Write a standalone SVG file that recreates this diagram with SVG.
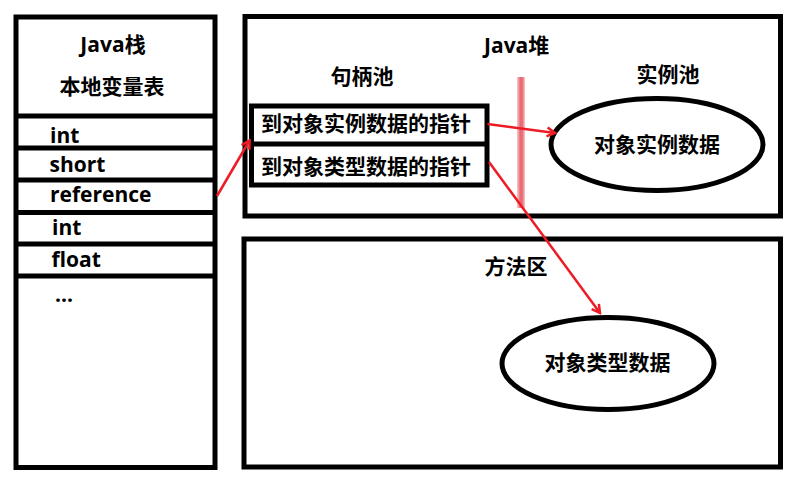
<svg xmlns="http://www.w3.org/2000/svg" width="797" height="487" viewBox="0 0 797 487">
<style>
.box{fill:#fff;stroke:#000;stroke-width:5}
.sep{stroke:#000;stroke-width:5}
.ell{fill:#fff;stroke:#000;stroke-width:5}
text{font-family:"Open Sans","Noto Sans CJK SC",sans-serif;font-weight:bold;font-size:21px;fill:#000}
.c{text-anchor:middle}
.conn{stroke:#ed1c24;stroke-width:2.5;fill:none;marker-end:url(#head)}
</style>
<defs>
<marker id="head" markerUnits="userSpaceOnUse" viewBox="0 0 12 12" refX="10" refY="6" markerWidth="12" markerHeight="12" orient="auto">
<path d="M2,1.5 L10,6 L2,10.5" fill="none" stroke="#ed1c24" stroke-width="2.5"/>
</marker>
<linearGradient id="brush" x1="0" y1="0" x2="1" y2="0">
<stop offset="0" stop-color="#f7c4c6"/>
<stop offset="0.4" stop-color="#e4505a"/>
<stop offset="0.7" stop-color="#e65a63"/>
<stop offset="1" stop-color="#f7c4c6"/>
</linearGradient>
</defs>
<rect width="797" height="487" fill="#fff"/>

<g id="java-stack">
<rect class="box" x="16" y="17" width="199" height="450.5"/>
<text class="c" x="113" y="52">Java栈</text>
<text class="c" x="112" y="93.5">本地变量表</text>
<line class="sep" x1="16" y1="116" x2="215" y2="116"/>
<line class="sep" x1="16" y1="148" x2="215" y2="148"/>
<line class="sep" x1="16" y1="180" x2="215" y2="180"/>
<line class="sep" x1="16" y1="212.5" x2="215" y2="212.5"/>
<line class="sep" x1="16" y1="244" x2="215" y2="244"/>
<line class="sep" x1="16" y1="276" x2="215" y2="276"/>
<text x="50" y="142.5">int</text>
<text x="49.5" y="171.5">short</text>
<text x="50" y="202">reference</text>
<text x="52" y="235">int</text>
<text x="51.5" y="266.5">float</text>
<text x="55" y="301.5">...</text>
</g>

<g id="java-heap">
<rect class="box" x="245" y="16.5" width="535.5" height="199.5"/>
<text x="484" y="53">Java堆</text>
<text class="c" x="362" y="83.5">句柄池</text>
<text class="c" x="668" y="82">实例池</text>
<rect x="517" y="77" width="8" height="131" fill="url(#brush)" opacity="0.85"/>
</g>

<g id="handle-pool">
<rect class="box" x="251.5" y="106" width="235.5" height="79"/>
<line class="sep" x1="251.5" y1="144" x2="487" y2="144"/>
<text x="261" y="131">到对象实例数据的指针</text>
<text x="261" y="173.5">到对象类型数据的指针</text>
</g>

<g id="instance-data">
<ellipse class="ell" cx="657" cy="144.5" rx="106" ry="46"/>
<text class="c" x="657" y="152">对象实例数据</text>
</g>

<g id="method-area">
<rect class="box" x="244" y="239" width="536.5" height="228"/>
<text class="c" x="516" y="274">方法区</text>
</g>

<g id="type-data">
<ellipse class="ell" cx="608" cy="363.5" rx="106" ry="46"/>
<text class="c" x="607.5" y="370">对象类型数据</text>
</g>

<g id="connectors">
<line class="conn" x1="217" y1="196" x2="249.5" y2="140.5"/>
<line class="conn" x1="487.5" y1="124" x2="555" y2="133"/>
<line class="conn" x1="489" y1="162" x2="600" y2="313"/>
</g>
</svg>
